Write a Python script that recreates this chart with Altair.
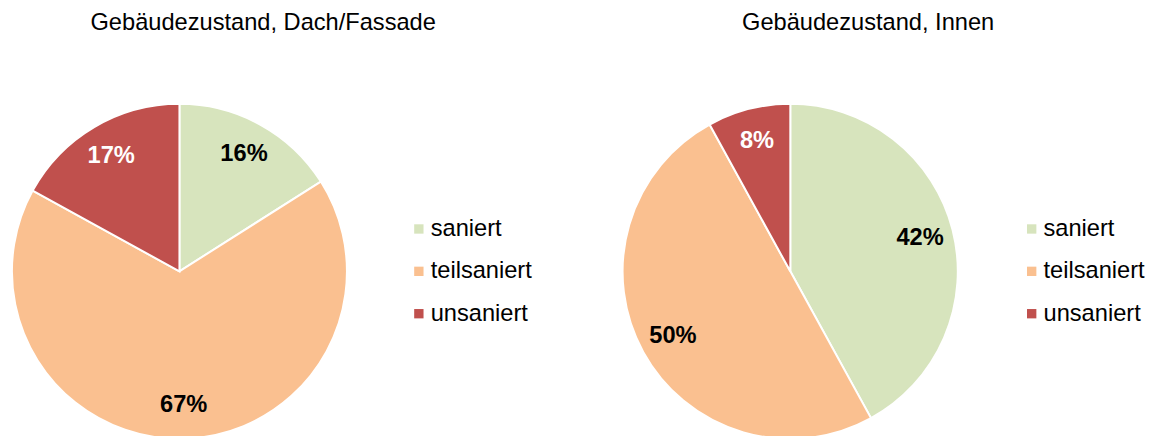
import altair as alt
import pandas as pd

categories = ["saniert", "teilsaniert", "unsaniert"]
dach_values = [16, 67, 17]
innen_values = [42, 50, 8]
colors = ["#D7E4BD", "#FAC090", "#C0504D"]
titles = ["Gebäudezustand, Dach/Fassade", "Gebäudezustand, Innen"]

FONT = "Liberation Sans"


def make_df(values):
    return pd.DataFrame({
        "Zustand": categories,
        "Wert": values,
        "idx": list(range(len(categories))),
        "Label": [f"{v}%" for v in values],
    })


def pie(values, title, cx, dx, legend_x):
    df = make_df(values)
    base = alt.Chart(df).encode(
        theta=alt.Theta("Wert:Q", stack=True),
        order=alt.Order("idx:Q"),
    )
    arcs = base.mark_arc(outerRadius=170, stroke="white", strokeWidth=2).encode(
        x=alt.value(cx),
        y=alt.value(170),
        color=alt.Color(
            "Zustand:N",
            sort=categories,
            scale=alt.Scale(domain=categories, range=colors),
            legend=alt.Legend(
                title=None,
                orient="none",
                legendX=legend_x,
                legendY=115,
                symbolType="square",
                symbolSize=90,
                symbolStrokeWidth=0,
                labelFontSize=24,
                labelFont=FONT,
                labelColor="black",
                labelOffset=0,
                rowPadding=19,
            ),
        ),
    )
    labels = base.mark_text(
        radius=136, fontSize=24, fontWeight="bold", font=FONT, baseline="middle", align="center"
    ).encode(
        x=alt.value(cx),
        y=alt.value(170),
        text="Label:N",
        color=alt.condition("datum.Zustand == 'unsaniert'", alt.value("white"), alt.value("black")),
    )
    return alt.layer(arcs, labels).properties(
        width=560,
        height=340,
        title=alt.TitleParams(
            title, fontSize=24, font=FONT, fontWeight="normal", color="black",
            anchor="middle", frame="group", dx=dx, dy=2, offset=68,
        ),
    )


c1 = pie(dach_values, titles[0], 170, -25, 401)
c2 = pie(innen_values, titles[1], 230, 29, 463)

chart = alt.hconcat(c1, c2, spacing=0).resolve_scale(color="independent").properties(
    padding=0
).configure_view(stroke=None)

chart.save("out.html", embed_options={"renderer": "svg", "actions": False})
